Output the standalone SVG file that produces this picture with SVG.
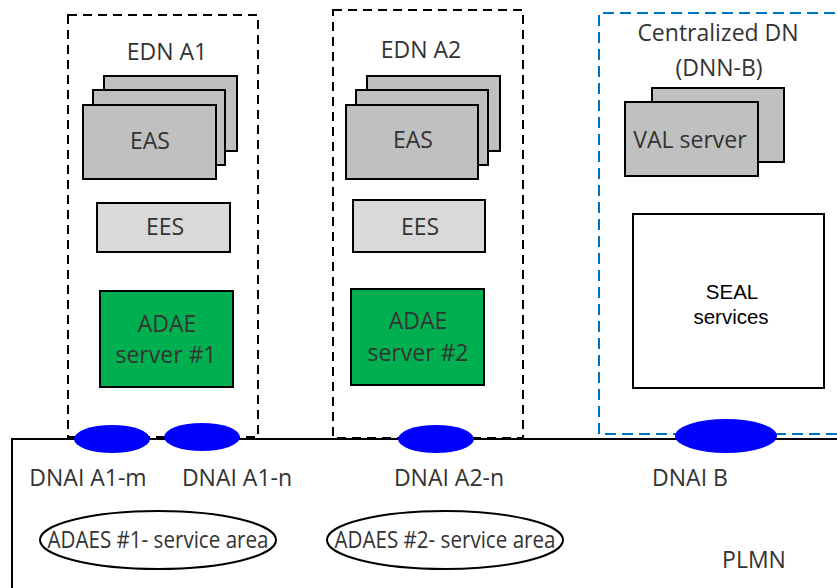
<svg xmlns="http://www.w3.org/2000/svg" width="837" height="588" viewBox="0 0 837 588">
<style>
.t{font-family:"Open Sans","Liberation Sans",sans-serif;font-size:23px;fill:#333333;text-anchor:middle}
.s{font-family:"Liberation Sans",Arial,sans-serif;font-size:20.5px;fill:#000;text-anchor:middle}
.eas{fill:#c0c0c0;stroke:#000;stroke-width:2}
.ees{fill:#d9d9d9;stroke:#000;stroke-width:2}
.adae{fill:#00b050;stroke:#000;stroke-width:2}
.edn{fill:none;stroke:#000;stroke-width:2;stroke-dasharray:9,6}
.dn{fill:none;stroke:#0070c0;stroke-width:2;stroke-dasharray:11,6}
.dnai{fill:#0000ff;stroke:none}
.area{fill:none;stroke:#000;stroke-width:2}
</style>
<rect width="837" height="588" fill="#fff"/>
<g id="plmn">
<path d="M12,588 V439 H837" fill="none" stroke="#000" stroke-width="2"/>
<text class="t" x="754" y="568">PLMN</text>
</g>
<g id="edn-a1">
<rect class="edn" x="68" y="15" width="190" height="422"/>
<text class="t" x="167" y="60">EDN A1</text>
</g>
<g id="eas-a1">
<rect class="eas" x="104" y="76" width="133" height="75"/>
<rect class="eas" x="93" y="90" width="132" height="75"/>
<rect class="eas" x="83" y="105" width="133" height="74"/>
<text class="t" x="150" y="149">EAS</text>
</g>
<g id="ees-a1">
<rect class="ees" x="97" y="203" width="133" height="49"/>
<text class="t" x="165" y="235">EES</text>
</g>
<g id="adae-1">
<rect class="adae" x="100" y="291" width="133" height="96"/>
<text class="t" x="167" y="332">ADAE</text>
<text class="t" x="166" y="363">server #1</text>
</g>
<g id="edn-a2">
<rect class="edn" x="333" y="10" width="190" height="428"/>
<text class="t" x="421" y="58">EDN A2</text>
</g>
<g id="eas-a2">
<rect class="eas" x="367" y="76" width="133" height="75"/>
<rect class="eas" x="356" y="90" width="132" height="75"/>
<rect class="eas" x="346" y="105" width="132" height="74"/>
<text class="t" x="413" y="148">EAS</text>
</g>
<g id="ees-a2">
<rect class="ees" x="353" y="200" width="132" height="52"/>
<text class="t" x="420" y="235">EES</text>
</g>
<g id="adae-2">
<rect class="adae" x="351" y="289" width="133" height="96"/>
<text class="t" x="418" y="329">ADAE</text>
<text class="t" x="418" y="361">server #2</text>
</g>
<g id="central-dn">
<path class="dn" d="M837,434 H599 V13 H837"/>
<text class="t" x="718" y="41">Centralized DN</text>
<text class="t" x="719" y="76">(DNN-B)</text>
</g>
<g id="val-server">
<rect class="eas" x="652" y="88" width="132" height="74"/>
<rect class="eas" x="625" y="102" width="133" height="74"/>
<text class="t" x="690" y="148">VAL server</text>
</g>
<g id="seal">
<rect x="633" y="214" width="191" height="174" fill="#fff" stroke="#000" stroke-width="2"/>
<text class="s" x="732" y="299">SEAL</text>
<text class="s" x="731" y="324">services</text>
</g>
<g id="dnai-a1-m">
<ellipse class="dnai" cx="112" cy="439" rx="38" ry="14"/>
<text class="t" x="88" y="486">DNAI A1-m</text>
</g>
<g id="dnai-a1-n">
<ellipse class="dnai" cx="202" cy="437" rx="38" ry="14"/>
<text class="t" x="237" y="486">DNAI A1-n</text>
</g>
<g id="dnai-a2-n">
<ellipse class="dnai" cx="436" cy="439" rx="38" ry="14"/>
<text class="t" x="449" y="486">DNAI A2-n</text>
</g>
<g id="dnai-b">
<ellipse class="dnai" cx="726" cy="436" rx="51" ry="17"/>
<text class="t" x="690" y="486">DNAI B</text>
</g>
<g id="adaes-1-area">
<ellipse class="area" cx="158" cy="540" rx="118" ry="29"/>
<text class="t" x="158" y="548" textLength="221" lengthAdjust="spacingAndGlyphs">ADAES #1- service area</text>
</g>
<g id="adaes-2-area">
<ellipse class="area" cx="445" cy="540" rx="118" ry="29"/>
<text class="t" x="445" y="548" textLength="221" lengthAdjust="spacingAndGlyphs">ADAES #2- service area</text>
</g>
<g id="connectors"></g>
</svg>
